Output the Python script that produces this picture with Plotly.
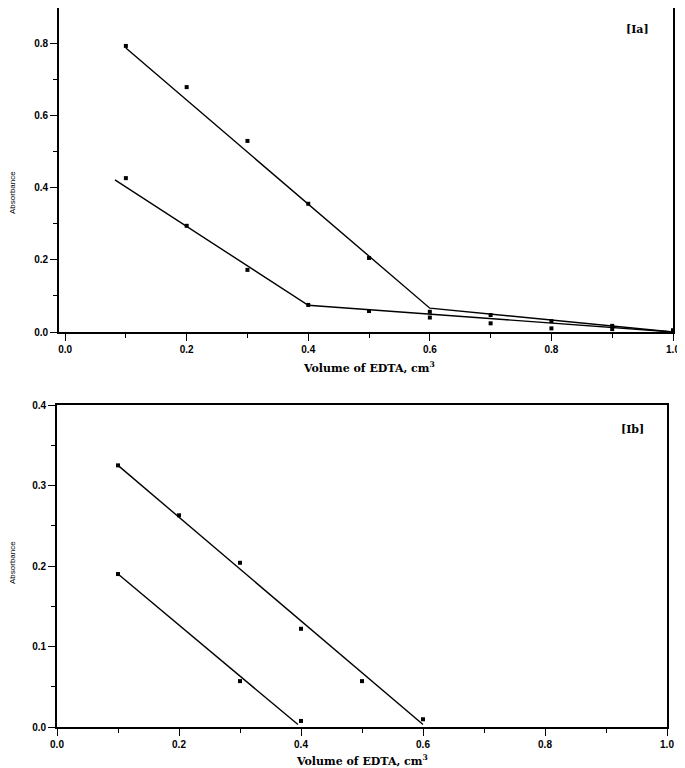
import plotly.graph_objects as go

# ---- Panel Ia data ----
ia_x = [0.1, 0.2, 0.3, 0.4, 0.5, 0.6, 0.7, 0.8, 0.9, 1.0]
ia_upper_y = [0.792, 0.678, 0.529, 0.355, 0.205, 0.056, 0.047, 0.030, 0.017, 0.005]
ia_lower_y = [0.426, 0.294, 0.172, 0.075, 0.058, 0.040, 0.024, 0.010, 0.008, 0.0]
ia_fit_upper_x = [0.10, 0.60, 1.00]
ia_fit_upper_y = [0.786, 0.066, 0.0]
ia_fit_lower_x = [0.082, 0.40, 1.00]
ia_fit_lower_y = [0.421, 0.074, 0.0]

# ---- Panel Ib data ----
ib_upper_x = [0.1, 0.2, 0.3, 0.4, 0.5, 0.6]
ib_upper_y = [0.325, 0.263, 0.204, 0.122, 0.057, 0.0096]
ib_lower_x = [0.1, 0.3, 0.4]
ib_lower_y = [0.190, 0.057, 0.0075]
ib_fit_upper_x = [0.1, 0.6]
ib_fit_upper_y = [0.325, 0.003]
ib_fit_lower_x = [0.1, 0.395]
ib_fit_lower_y = [0.190, 0.003]

x_ticks = [0.0, 0.2, 0.4, 0.6, 0.8, 1.0]
ia_y_ticks = [0.0, 0.2, 0.4, 0.6, 0.8]
ib_y_ticks = [0.0, 0.1, 0.2, 0.3, 0.4]

BLACK = "#000000"
mk = dict(symbol="square", size=4, color=BLACK)
ln = dict(color=BLACK, width=1.4)

fig = go.Figure()
# Panel Ia
fig.add_trace(go.Scatter(x=ia_x, y=ia_upper_y, mode="markers", marker=mk, xaxis="x", yaxis="y"))
fig.add_trace(go.Scatter(x=ia_x, y=ia_lower_y, mode="markers", marker=mk, xaxis="x", yaxis="y"))
fig.add_trace(go.Scatter(x=ia_fit_upper_x, y=ia_fit_upper_y, mode="lines", line=ln, xaxis="x", yaxis="y"))
fig.add_trace(go.Scatter(x=ia_fit_lower_x, y=ia_fit_lower_y, mode="lines", line=ln, xaxis="x", yaxis="y"))
# Panel Ib
fig.add_trace(go.Scatter(x=ib_upper_x, y=ib_upper_y, mode="markers", marker=mk, xaxis="x2", yaxis="y2"))
fig.add_trace(go.Scatter(x=ib_lower_x, y=ib_lower_y, mode="markers", marker=mk, xaxis="x2", yaxis="y2"))
fig.add_trace(go.Scatter(x=ib_fit_upper_x, y=ib_fit_upper_y, mode="lines", line=ln, xaxis="x2", yaxis="y2"))
fig.add_trace(go.Scatter(x=ib_fit_lower_x, y=ib_fit_lower_y, mode="lines", line=ln, xaxis="x2", yaxis="y2"))

# page body has an 8px margin: work in reference pixels and shift by OFF
OFF = 8
W, H = 685 - OFF, 768 - OFF


def px(x):
    return min(max((x - OFF) / W, 0.0), 1.0)


def py(y):
    return min(max(1 - (y - OFF) / H, 0.0), 1.0)


tickfont = dict(family="Arial, Liberation Sans", size=10, color=BLACK, weight="bold")
common = dict(showline=True, linecolor=BLACK, linewidth=1.8, mirror=True, showgrid=False,
              zeroline=False, ticks="outside", ticklen=7, tickwidth=1.2, tickcolor=BLACK,
              tickfont=tickfont, automargin=False, tickformat=".1f")
minor_x = dict(dtick=0.1, tick0=0, ticks="outside", ticklen=4, tickwidth=1, tickcolor=BLACK)

fig.update_layout(
    width=W, height=H, showlegend=False,
    margin=dict(l=0, r=0, t=0, b=0),
    paper_bgcolor="white", plot_bgcolor="white",
    xaxis=dict(domain=[px(59), px(673)], range=[-0.01, 1.0], tickvals=x_ticks, anchor="y",
               minor=minor_x, **common),
    yaxis=dict(domain=[py(332), py(8)], range=[0, 0.897], tickvals=ia_y_ticks, anchor="x",
               minor=dict(dtick=0.1, tick0=0, ticks="outside", ticklen=4, tickwidth=1, tickcolor=BLACK),
               **common),
    xaxis2=dict(domain=[px(57), px(667)], range=[0, 1.0], tickvals=x_ticks, anchor="y2",
                minor=minor_x, **common),
    yaxis2=dict(domain=[py(727), py(405)], range=[0, 0.4], tickvals=ib_y_ticks, anchor="x2",
                minor=dict(dtick=0.05, tick0=0, ticks="outside", ticklen=4, tickwidth=1, tickcolor=BLACK),
                **common),
)

serif = dict(family="DejaVu Serif", size=11, color=BLACK, weight="bold")
small = dict(family="Liberation Sans Narrow, Arial Narrow, Arial", size=8, color=BLACK)
fig.add_annotation(text="Volume of EDTA, cm<sup>3</sup>", xref="paper", yref="paper",
                   x=px(369), y=py(367), showarrow=False, font=serif, xanchor="center", yanchor="middle")
fig.add_annotation(text="Volume of EDTA, cm<sup>3</sup>", xref="paper", yref="paper",
                   x=px(362), y=py(760), showarrow=False, font=serif, xanchor="center", yanchor="middle")
fig.add_annotation(text="Absorbance", xref="paper", yref="paper", textangle=-90,
                   x=px(12), y=py(193), showarrow=False, font=small, xanchor="center", yanchor="middle")
fig.add_annotation(text="Absorbance", xref="paper", yref="paper", textangle=-90,
                   x=px(12), y=py(563), showarrow=False, font=small, xanchor="center", yanchor="middle")
fig.add_annotation(text="[Ia]", xref="paper", yref="paper",
                   x=px(637), y=py(30), showarrow=False, font=serif, xanchor="center", yanchor="middle")
fig.add_annotation(text="[Ib]", xref="paper", yref="paper",
                   x=px(632), y=py(430), showarrow=False, font=serif, xanchor="center", yanchor="middle")

fig.write_html("out.html")
